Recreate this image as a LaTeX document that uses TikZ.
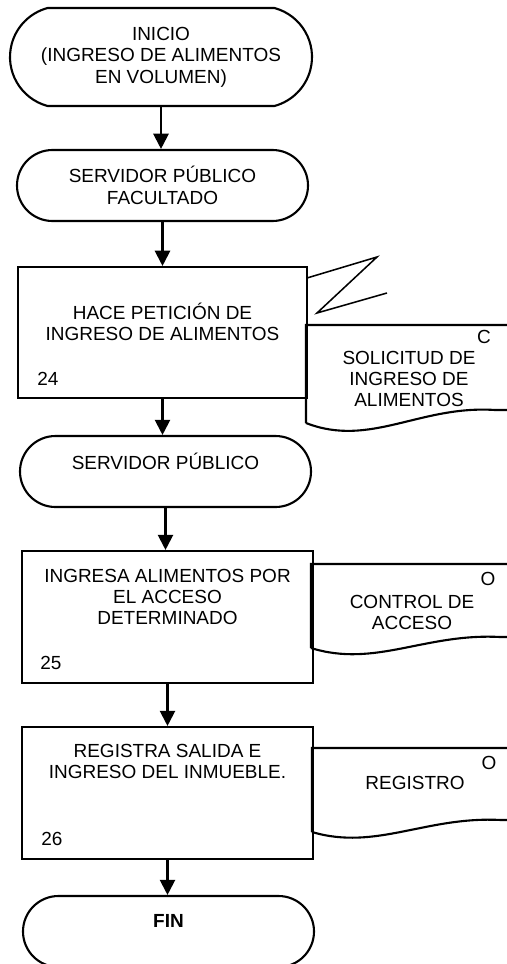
\documentclass[tikz,border=0pt]{standalone}
\usepackage{fontspec}
\setmainfont{Liberation Sans}
\usepackage{tikz}
\usetikzlibrary{arrows.meta, positioning, shapes.misc, calc}

\begin{document}
\begin{tikzpicture}[
    every node/.style={font=\fontsize{13.5}{15.2}\selectfont},
    term/.style={draw, line width=1.5pt, rounded rectangle, minimum width=7.275cm, minimum height=1.775cm, align=center, inner sep=0pt},
    proc/.style={draw, line width=1.5pt, minimum width=7.275cm, minimum height=3.3cm, inner sep=0pt},
    txt/.style={align=center, inner sep=0pt},
    num/.style={inner sep=0pt},
    docu/.style={line width=1.5pt},
    arr/.style={-{Triangle[length=0.38cm, width=0.38cm]}, line width=1.5pt}
]
    \useasboundingbox (0,0) rectangle (12.675,-24.1);

    % Terminals and steps
    \node[term, minimum width=7.55cm, minimum height=2.45cm, rounded rectangle arc length=150] (ini) at (4.025,-1.425) {INICIO\\(INGRESO DE ALIMENTOS\\EN VOLUMEN)};
    \node[term] (sfac) at (4.0625,-4.6375) {SERVIDOR PÚBLICO\\FACULTADO};
    \node[proc, minimum width=7.225cm, minimum height=3.275cm] (p24) at (4.0625,-8.3125) {};
    \node[term] (sp) at (4.1375,-11.7875) {SERVIDOR PÚBLICO\\\mbox{}};
    \node[proc] (p25) at (4.1875,-15.425) {};
    \node[proc] (p26) at (4.1875,-19.825) {};
    \node[term] (fin) at (4.2125,-23.2875) {\textbf{FIN}\\\mbox{}};

    % Texts in the steps
    \node[txt] (t24) at ([yshift=-1.4cm]p24.north) {HACE PETICIÓN DE\\INGRESO DE ALIMENTOS};
    \node[num] (n24) at ([shift={(0.775,0.5)}]p24.south west) {24};
    \node[txt] (t25) at ([yshift=-1.175cm]p25.north) {INGRESA ALIMENTOS POR\\EL ACCESO\\DETERMINADO};
    \node[num] (n25) at ([shift={(0.75,0.525)}]p25.south west) {25};
    \node[txt] (t26) at ([yshift=-0.8875cm]p26.north) {REGISTRA SALIDA E\\INGRESO DEL INMUEBLE.};
    \node[num] (n26) at ([shift={(0.775,0.525)}]p26.south west) {26};

    % Flow
    \draw[arr] (ini.south) -- (ini.south |- sfac.north);
    \draw[arr] (sfac.south) -- (sfac.south |- p24.north);
    \draw[arr] (p24.south) -- (p24.south |- sp.north);
    \draw[arr] (sp.south) -- (sp.south |- p25.north);
    \draw[arr] (p25.south) -- (p25.south |- p26.north);
    \draw[arr] (p26.south) -- (p26.south |- fin.north);

    % Documents
    \draw[line width=1.1pt] (7.675,-6.95) -- (9.425,-6.425) -- (7.925,-7.825) -- (9.675,-7.325);
    \draw[docu] (7.65,-10.575) -- (7.65,-8.125) -- (13.2,-8.125) -- (13.2,-10.25) -- (12.375,-10.25)
        .. controls (10.5,-10.125) and (9.25,-11.2) .. (7.65,-10.575);
    \node[num] (c24) at (12.1,-8.425) {C};
    \node[txt] (d24) at (10.225,-9.475) {SOLICITUD DE\\INGRESO DE\\ALIMENTOS};

    \draw[docu] (7.775,-16.2) -- (7.775,-14.1) -- (13.2,-14.1) -- (13.2,-15.925) -- (12.5,-15.925)
        .. controls (10.625,-15.825) and (9.375,-16.7) .. (7.775,-16.2);
    \node[num] (c25) at (12.2,-14.475) {O};
    \node[txt] (d25) at (10.3,-15.3125) {CONTROL DE\\ACCESO};

    \draw[docu] (7.8,-20.8) -- (7.8,-18.7) -- (13.2,-18.7) -- (13.2,-20.5) -- (12.525,-20.5)
        .. controls (10.65,-20.4) and (9.4,-21.275) .. (7.8,-20.8);
    \node[num] (c26) at (12.225,-19.075) {O};
    \node[txt] (d26) at (10.375,-19.575) {REGISTRO};
\end{tikzpicture}
\end{document}
